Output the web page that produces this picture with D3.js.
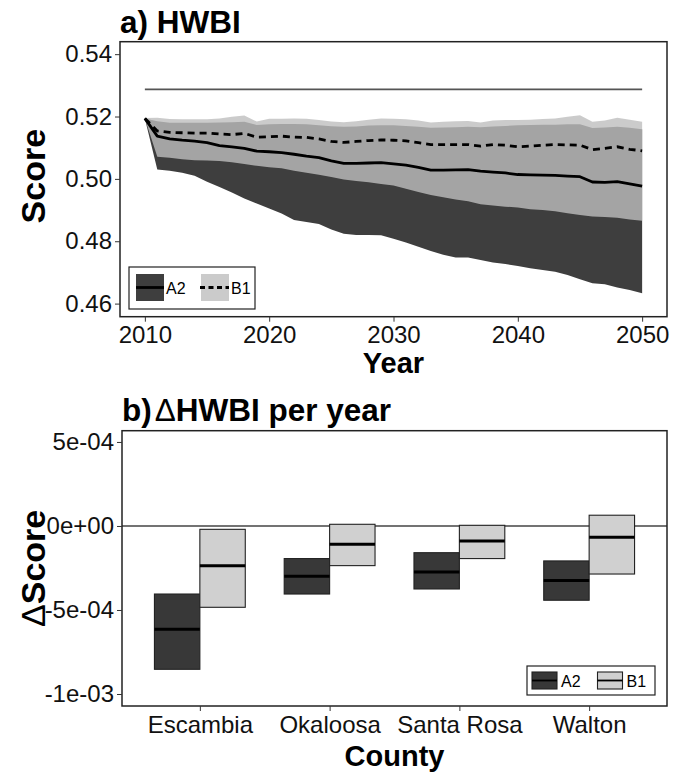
<!DOCTYPE html>
<html><head><meta charset="utf-8">
<script src="https://cdn.jsdelivr.net/npm/d3@7"></script>
<style>
html,body{margin:0;padding:0;background:#fff;}
svg{display:block;font-family:"Liberation Sans",Arial,Helvetica,sans-serif;}
</style></head>
<body>
<svg id="c" width="677" height="773"></svg>
<script>
// ---------- Data: panel a ----------
const years = [2010,2011,2012,2013,2014,2015,2016,2017,2018,2019,2020,2021,2022,2023,2024,2025,2026,2027,2028,2029,2030,
  2031,2032,2033,2034,2035,2036,2037,2038,2039,2040,2041,2042,2043,2044,2045,2046,2047,2048,2049,2050];
const a2Median = [0.5194,0.5137,0.5128,0.5124,0.5121,0.5116,0.5107,0.5103,0.5098,0.5089,0.5087,0.5084,0.5079,0.5073,0.5068,0.5058,0.5050,0.5050,0.5051,0.5052,0.5048,
  0.5044,0.5037,0.5028,0.5028,0.5029,0.5030,0.5025,0.5022,0.5019,0.5014,0.5013,0.5012,0.5011,0.5009,0.5007,0.4990,0.4989,0.4991,0.4984,0.4977];
const b1Median = [0.5194,0.5154,0.5149,0.5148,0.5147,0.5147,0.5144,0.5142,0.5146,0.5134,0.5135,0.5137,0.5134,0.5133,0.5128,0.5120,0.5117,0.5120,0.5123,0.5125,0.5124,
  0.5122,0.5116,0.5110,0.5110,0.5110,0.5110,0.5105,0.5110,0.5108,0.5103,0.5105,0.5108,0.5110,0.5109,0.5108,0.5094,0.5098,0.5103,0.5095,0.5090];
const a2Upper = [0.5194,0.5185,0.5180,0.5180,0.5180,0.5180,0.5181,0.5182,0.5183,0.5173,0.5175,0.5176,0.5176,0.5175,0.5172,0.5169,0.5167,0.5168,0.5171,0.5172,0.5172,
  0.5170,0.5167,0.5164,0.5165,0.5166,0.5167,0.5166,0.5168,0.5170,0.5172,0.5173,0.5174,0.5174,0.5175,0.5175,0.5163,0.5165,0.5167,0.5164,0.5159];
const a2Lower = [0.5194,0.5030,0.5026,0.5020,0.5010,0.4991,0.4974,0.4956,0.4937,0.4921,0.4905,0.4889,0.4868,0.4862,0.4855,0.4838,0.4824,0.4820,0.4820,0.4819,0.4808,
  0.4796,0.4782,0.4769,0.4757,0.4748,0.4748,0.4740,0.4732,0.4727,0.4721,0.4713,0.4708,0.4702,0.4692,0.4678,0.4665,0.4662,0.4652,0.4644,0.4633];
const b1Upper = [0.5195,0.5196,0.5192,0.5191,0.5191,0.5191,0.5194,0.5199,0.5203,0.5184,0.5193,0.5193,0.5194,0.5193,0.5189,0.5184,0.5182,0.5185,0.5190,0.5194,0.5193,
  0.5191,0.5187,0.5181,0.5183,0.5185,0.5186,0.5181,0.5187,0.5189,0.5189,0.5190,0.5192,0.5194,0.5199,0.5204,0.5183,0.5187,0.5196,0.5190,0.5183];
const b1Lower = [0.5194,0.5071,0.5068,0.5063,0.5060,0.5059,0.5057,0.5053,0.5048,0.5042,0.5037,0.5034,0.5026,0.5020,0.5013,0.5006,0.4998,0.4993,0.4989,0.4984,0.4979,
  0.4968,0.4958,0.4948,0.4941,0.4934,0.4928,0.4919,0.4915,0.4911,0.4908,0.4903,0.4900,0.4896,0.4890,0.4884,0.4879,0.4878,0.4875,0.4870,0.4866];
const referenceLevel = 0.5287;
const yTicksA = [0.46,0.48,0.50,0.52,0.54];
const xTicksA = [2010,2020,2030,2040,2050];

// ---------- Data: panel b ----------
const counties = ["Escambia","Okaloosa","Santa Rosa","Walton"];
const a2Low  = [-8.53e-4,-4.05e-4,-3.75e-4,-4.42e-4];
const a2Mid  = [-6.15e-4,-2.99e-4,-2.74e-4,-3.25e-4];
const a2High = [-4.05e-4,-1.94e-4,-1.59e-4,-2.08e-4];
const b1Low  = [-4.84e-4,-2.36e-4,-1.94e-4,-2.86e-4];
const b1Mid  = [-2.36e-4,-1.09e-4,-0.89e-4,-0.67e-4];
const b1High = [-0.20e-4, 0.10e-4, 0.04e-4, 0.64e-4];
const yTicksB = [5e-4, 0, -5e-4, -1e-3];
const yTickLabelsB = ["5e-04","0e+00","-5e-04","-1e-03"];

const svg = d3.select("#c");
const TICKFONT = 24, TITLEFONT = 29, YTITLEFONT = 34, PANELFONT = 31.5;

// =============== PANEL A ===============
const A = {l:120, r:667, t:41.7, b:316.7};
const xA = d3.scaleLinear().domain([2008,2052]).range([A.l, A.r]);
const yA = d3.scaleLinear().domain([0.4558,0.5440]).range([A.b, A.t]);

const gA = svg.append("g");
const rows = years.map((y,i)=>({y, a2m:a2Median[i], b1m:b1Median[i], a2u:a2Upper[i], a2l:a2Lower[i], b1u:b1Upper[i], b1l:b1Lower[i]}));

gA.append("path").datum(rows)
  .attr("d", d3.area().x(d=>xA(d.y)).y0(d=>yA(d.a2l)).y1(d=>yA(d.a2u)))
  .attr("fill","#3e3e3e");
gA.append("path").datum(rows)
  .attr("d", d3.area().x(d=>xA(d.y)).y0(d=>yA(d.b1l)).y1(d=>yA(d.b1u)))
  .attr("fill","#bebebe").attr("fill-opacity",0.8);

gA.append("line")
  .attr("x1", xA(2010)).attr("x2", xA(2050))
  .attr("y1", yA(referenceLevel)).attr("y2", yA(referenceLevel))
  .attr("stroke","#555").attr("stroke-width",1.6);

gA.append("path").datum(rows)
  .attr("d", d3.line().x(d=>xA(d.y)).y(d=>yA(d.a2m)))
  .attr("fill","none").attr("stroke","#000").attr("stroke-width",2.8).attr("stroke-linejoin","round");
gA.append("path").datum(rows)
  .attr("d", d3.line().x(d=>xA(d.y)).y(d=>yA(d.b1m)))
  .attr("fill","none").attr("stroke","#000").attr("stroke-width",2.8).attr("stroke-dasharray","7,5");

gA.append("rect").attr("x",A.l).attr("y",A.t).attr("width",A.r-A.l).attr("height",A.b-A.t)
  .attr("fill","none").attr("stroke","#222").attr("stroke-width",1.5);

const axLA = gA.append("g").attr("transform",`translate(${A.l},0)`)
  .call(d3.axisLeft(yA).tickValues(yTicksA).tickFormat(d3.format(".2f")).tickSize(5).tickPadding(3));
const axBA = gA.append("g").attr("transform",`translate(0,${A.b})`)
  .call(d3.axisBottom(xA).tickValues(xTicksA).tickFormat(d3.format("d")).tickSize(5).tickPadding(4));
[axLA, axBA].forEach(ax=>{
  ax.select(".domain").remove();
  ax.selectAll(".tick line").attr("stroke","#333").attr("stroke-width",1);
  ax.selectAll(".tick text").attr("fill","#111").style("font-size",TICKFONT+"px").style("font-family",'"Liberation Sans",Arial,sans-serif');
});

svg.append("text").attr("x",120).attr("y",33).attr("font-weight","bold").style("font-size",PANELFONT+"px").attr("fill","#000").text("a) HWBI");
svg.append("text").attr("x",(A.l+A.r)/2).attr("y",373).attr("text-anchor","middle").attr("font-weight","bold").style("font-size",TITLEFONT+"px").text("Year");
svg.append("text").attr("transform",`translate(45,${(A.t+A.b)/2 - 3}) rotate(-90)`).attr("text-anchor","middle")
  .attr("font-weight","bold").style("font-size",YTITLEFONT+"px").text("Score");

// legend A
const lgA = svg.append("g");
lgA.append("rect").attr("x",129).attr("y",267).attr("width",126).attr("height",42).attr("fill","#fff").attr("stroke","#222").attr("stroke-width",1.2);
lgA.append("rect").attr("x",136).attr("y",274).attr("width",28).attr("height",27).attr("fill","#3e3e3e");
lgA.append("line").attr("x1",136).attr("x2",164).attr("y1",287.5).attr("y2",287.5).attr("stroke","#000").attr("stroke-width",2.8);
lgA.append("text").attr("x",166).attr("y",293.5).style("font-size","16px").text("A2");
lgA.append("rect").attr("x",201).attr("y",274).attr("width",28).attr("height",27).attr("fill","#bebebe").attr("fill-opacity",0.8);
lgA.append("line").attr("x1",200).attr("x2",229).attr("y1",287.5).attr("y2",287.5).attr("stroke","#000").attr("stroke-width",2.8).attr("stroke-dasharray","5,3.5");
lgA.append("text").attr("x",231).attr("y",293.5).style("font-size","16px").text("B1");

// =============== PANEL B ===============
const B = {l:122, r:667, t:430.7, b:706};
const xB = d3.scalePoint().domain(counties).range([B.l, B.r]).padding(0.6);
const yB = d3.scaleLinear().domain([-1.0714e-3, 5.67e-4]).range([B.b, B.t]);
const step = xB.step(), bw = step*0.35;

const gB = svg.append("g");
gB.append("line").attr("x1",B.l).attr("x2",B.r).attr("y1",yB(0)).attr("y2",yB(0)).attr("stroke","#444").attr("stroke-width",1.4);

const boxes = counties.map((c,i)=>[
  {c, s:"A2", lo:a2Low[i], mid:a2Mid[i], hi:a2High[i], off:-bw},
  {c, s:"B1", lo:b1Low[i], mid:b1Mid[i], hi:b1High[i], off:0}
]).flat();
const fillB = {A2:"#383838", B1:"#d0d0d0"};
const bg = gB.selectAll("g.box").data(boxes).enter().append("g");
bg.append("rect")
  .attr("x", d=>xB(d.c)+d.off).attr("width", bw)
  .attr("y", d=>yB(d.hi)).attr("height", d=>yB(d.lo)-yB(d.hi))
  .attr("fill", d=>fillB[d.s]).attr("stroke","#222").attr("stroke-width",1.1);
bg.append("line")
  .attr("x1", d=>xB(d.c)+d.off).attr("x2", d=>xB(d.c)+d.off+bw)
  .attr("y1", d=>yB(d.mid)).attr("y2", d=>yB(d.mid))
  .attr("stroke","#000").attr("stroke-width",3);

gB.append("rect").attr("x",B.l).attr("y",B.t).attr("width",B.r-B.l).attr("height",B.b-B.t)
  .attr("fill","none").attr("stroke","#222").attr("stroke-width",1.5);

const axLB = gB.append("g").attr("transform",`translate(${B.l},0)`)
  .call(d3.axisLeft(yB).tickValues(yTicksB).tickFormat((d,i)=>yTickLabelsB[i]).tickSize(5).tickPadding(3));
const axBB = gB.append("g").attr("transform",`translate(0,${B.b})`)
  .call(d3.axisBottom(xB).tickSize(5).tickPadding(5));
[axLB, axBB].forEach(ax=>{
  ax.select(".domain").remove();
  ax.selectAll(".tick line").attr("stroke","#333").attr("stroke-width",1);
  ax.selectAll(".tick text").attr("fill","#111").style("font-size",TICKFONT+"px").style("font-family",'"Liberation Sans",Arial,sans-serif');
});

const tb = svg.append("text").attr("x",122).attr("y",421).style("font-size",PANELFONT+"px").attr("fill","#000");
tb.append("tspan").attr("font-weight","bold").text("b)");
tb.append("tspan").attr("font-weight","normal").attr("dx",3).text("\u0394");
tb.append("tspan").attr("font-weight","bold").text("HWBI per year");

svg.append("text").attr("x",(B.l+B.r)/2).attr("y",766).attr("text-anchor","middle").attr("font-weight","bold").style("font-size",TITLEFONT+"px").text("County");
const ys = svg.append("text").attr("transform",`translate(45,${(B.t+B.b)/2}) rotate(-90)`).attr("text-anchor","middle").style("font-size",YTITLEFONT+"px");
ys.append("tspan").attr("font-weight","normal").text("\u0394");
ys.append("tspan").attr("font-weight","bold").text("Score");

// legend B
const lgB = svg.append("g");
lgB.append("rect").attr("x",527).attr("y",666).attr("width",128).attr("height",29).attr("fill","#fff").attr("stroke","#222").attr("stroke-width",1.2);
[["A2",532],["B1",597.5]].forEach(([s,x])=>{
  lgB.append("rect").attr("x",x).attr("y",672).attr("width",25).attr("height",17).attr("fill",fillB[s]).attr("stroke","#222").attr("stroke-width",1.1);
  lgB.append("line").attr("x1",x).attr("x2",x+25).attr("y1",680.5).attr("y2",680.5).attr("stroke","#000").attr("stroke-width",1.8);
  lgB.append("text").attr("x",x+29).attr("y",687).style("font-size","16px").text(s);
});
</script>
</body></html>
